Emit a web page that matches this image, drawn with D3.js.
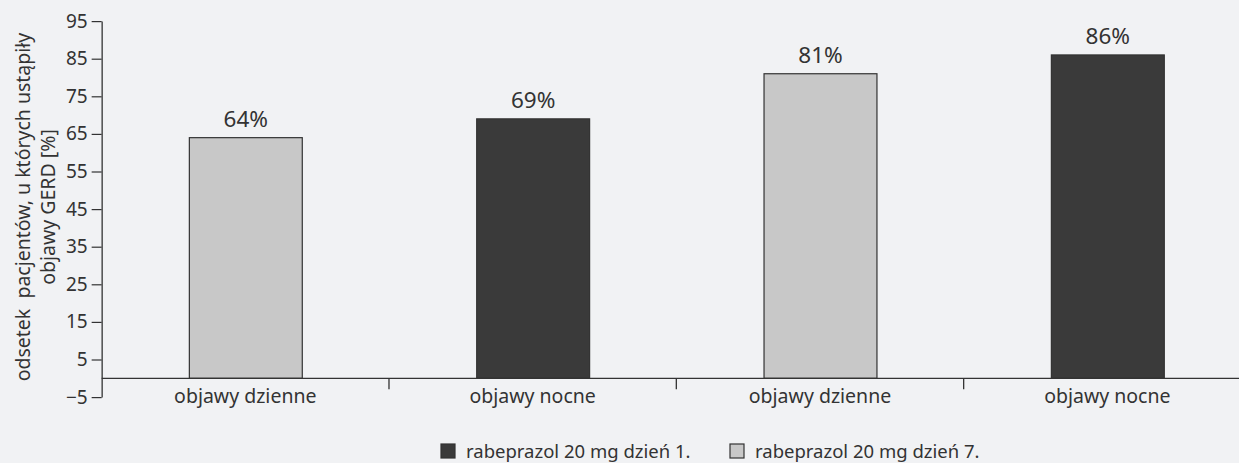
<!DOCTYPE html>
<html>
<head>
<meta charset="utf-8">
<script src="https://cdn.jsdelivr.net/npm/d3@7"></script>
<style>
  html, body { margin: 0; padding: 0; background: #f1f2f4; }
  svg { display: block; font-family: "Noto Sans", "Open Sans", sans-serif; }
</style>
</head>
<body>
<svg id="chart" width="1239" height="463"></svg>
<script>
const categories = ["objawy dzienne", "objawy nocne", "objawy dzienne", "objawy nocne"];
const values = [64, 69, 81, 86];
const valueLabels = ["64%", "69%", "81%", "86%"];
const seriesIndex = [1, 0, 1, 0]; // 0 = dzień 1., 1 = dzień 7.
const seriesNames = ["rabeprazol 20 mg dzień 1.", "rabeprazol 20 mg dzień 7."];
const seriesColors = ["#3a3a3a", "#c8c8c8"];
const yTicks = [-5, 5, 15, 25, 35, 45, 55, 65, 75, 85, 95];
const yTitle = ["odsetek  pacjentów, u których ustąpiły", "objawy GERD [%]"];

const svg = d3.select("#chart");
const textColor = "#333";

const x = d3.scaleBand()
  .domain(d3.range(categories.length))
  .range([101.65, 1251])
  .padding(0);
const y = d3.scaleLinear().domain([-5, 95]).range([397.1, 21.1]);

const barW = x.bandwidth() * 0.393;

// bars
svg.append("g").selectAll("rect").data(values).join("rect")
  .attr("x", (d, i) => x(i) + x.bandwidth() / 2 - barW / 2 + 0.5)
  .attr("y", d => y(d))
  .attr("width", barW)
  .attr("height", d => y(0) - y(d))
  .attr("fill", (d, i) => seriesColors[seriesIndex[i]])
  .attr("stroke", "#333")
  .attr("stroke-width", 1.2);

// value labels
svg.append("g").selectAll("text").data(values).join("text")
  .attr("x", (d, i) => x(i) + x.bandwidth() / 2 + 0.5)
  .attr("y", d => y(d) - 11)
  .attr("text-anchor", "middle")
  .attr("font-size", 22.5)
  .attr("fill", textColor)
  .text((d, i) => valueLabels[i]);

// y axis
const yAxis = d3.axisLeft(y).tickValues(yTicks).tickSize(10).tickSizeOuter(0).tickPadding(4);
const gy = svg.append("g").attr("transform", "translate(101.65,0)").call(yAxis);
gy.select(".domain").attr("stroke", "#333").attr("stroke-width", 1.3);
gy.selectAll(".tick line").attr("stroke", "#333").attr("stroke-width", 1.2);
gy.selectAll(".tick text").attr("font-size", 19).attr("fill", textColor)
  .attr("font-family", '"Noto Sans", "Open Sans", sans-serif');

// x axis
const gx = svg.append("g");
gx.append("line")
  .attr("x1", x.range()[0]).attr("x2", x.range()[1])
  .attr("y1", y(0)).attr("y2", y(0))
  .attr("stroke", "#333").attr("stroke-width", 1.3);
gx.selectAll("line.tk").data(d3.range(1, categories.length)).join("line")
  .attr("class", "tk")
  .attr("x1", i => x(i)).attr("x2", i => x(i))
  .attr("y1", y(0)).attr("y2", y(0) + 11)
  .attr("stroke", "#333").attr("stroke-width", 1.3);
gx.selectAll("text").data(categories).join("text")
  .attr("x", (d, i) => x(i) + x.bandwidth() / 2)
  .attr("y", y(0) + 25)
  .attr("text-anchor", "middle")
  .attr("font-size", 19.5)
  .attr("fill", textColor)
  .text(d => d);

// y title
const yt = svg.append("text")
  .attr("transform", "translate(0,207) rotate(-90)")
  .attr("text-anchor", "middle")
  .attr("font-size", 19.5)
  .attr("fill", textColor)
  .style("white-space", "pre");
yt.append("tspan").attr("x", 0).attr("y", 29.5).text(yTitle[0]);
yt.append("tspan").attr("x", 0).attr("y", 54.5).text(yTitle[1]);

// legend
const legendX = [441, 730];
const lg = svg.append("g").selectAll("g").data(seriesNames).join("g")
  .attr("transform", (d, i) => `translate(${legendX[i]},444)`);
lg.append("rect")
  .attr("width", 14).attr("height", 14)
  .attr("fill", (d, i) => seriesColors[i])
  .attr("stroke", "#333").attr("stroke-width", 1.2);
lg.append("text")
  .attr("x", 25).attr("y", 14)
  .attr("font-size", 18.5)
  .attr("fill", textColor)
  .text(d => d);
</script>
</body>
</html>
